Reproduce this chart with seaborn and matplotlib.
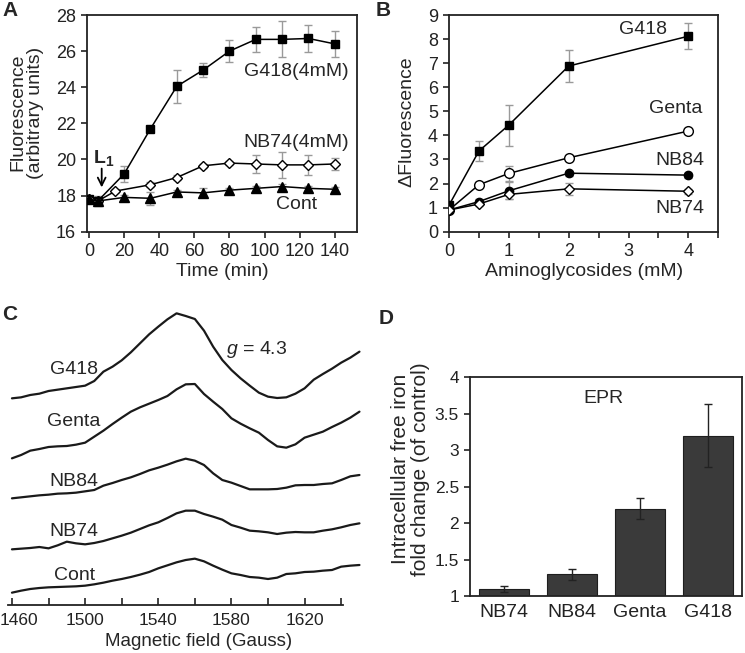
import numpy as np
import pandas as pd
import matplotlib
matplotlib.use("Agg")
import matplotlib.pyplot as plt
import matplotlib.transforms as mtrans
import seaborn as sns
from matplotlib.ticker import MultipleLocator

sns.set_style("ticks")
plt.rcParams['font.family'] = ['Liberation Sans', 'DejaVu Sans']
plt.rcParams['mathtext.fontset'] = 'custom'
plt.rcParams['mathtext.rm'] = 'Liberation Sans'
plt.rcParams['mathtext.it'] = 'Liberation Sans:italic'
plt.rcParams['mathtext.bf'] = 'Liberation Sans:bold'

# ---------------- Panel A data ----------------
a_time_g418 = [0, 5, 20, 35, 50, 65, 80, 95, 110, 125, 140]
a_g418 = [17.8, 17.7, 19.2, 21.7, 24.05, 24.95, 26.0, 26.65, 26.65, 26.7, 26.4]
a_g418_err = [0.1, 0.2, 0.45, 0.1, 0.9, 0.4, 0.6, 0.7, 1.0, 0.75, 0.7]
a_time_nb74 = [0, 5, 15, 35, 50, 65, 80, 95, 110, 125, 140]
a_nb74 = [17.8, 17.7, 18.25, 18.6, 19.0, 19.65, 19.8, 19.75, 19.7, 19.7, 19.75]
a_nb74_err = [0.1, 0.1, 0.1, 0.15, 0.15, 0.1, 0.1, 0.5, 0.7, 0.55, 0.35]
a_time_cont = [0, 5, 20, 35, 50, 65, 80, 95, 110, 125, 140]
a_cont = [17.8, 17.7, 17.9, 17.85, 18.2, 18.15, 18.3, 18.4, 18.5, 18.4, 18.35]
a_cont_err = [0.15, 0.25, 0.15, 0.35, 0.1, 0.25, 0.1, 0.15, 0.15, 0.15, 0.15]

# ---------------- Panel B data ----------------
b_conc = [0, 0.5, 1, 2, 4]
b_g418 = [1.1, 3.35, 4.43, 6.88, 8.12]
b_g418_err = [0.1, 0.43, 0.85, 0.67, 0.55]
b_genta = [0.9, 1.95, 2.42, 3.07, 4.18]
b_genta_err = [0.1, 0.1, 0.3, 0.1, 0.1]
b_nb84 = [0.9, 1.25, 1.7, 2.43, 2.35]
b_nb84_err = [0.1, 0.1, 0.35, 0.1, 0.1]
b_nb74 = [0.9, 1.15, 1.55, 1.78, 1.68]
b_nb74_err = [0.1, 0.1, 0.2, 0.25, 0.1]

# ---------------- Panel C data (EPR spectra, stacked, arb. units) ----------------
c_field = [1460, 1465, 1470, 1475, 1480, 1485, 1490, 1495, 1500, 1505,
           1510, 1515, 1520, 1525, 1530, 1535, 1540, 1545, 1550, 1555,
           1560, 1565, 1570, 1575, 1580, 1585, 1590, 1595, 1600, 1605,
           1610, 1615, 1620, 1625, 1630, 1635, 1640, 1645, 1650]
c_g418 = [70.5, 70.8, 71.5, 71.9, 72.7, 73.1, 73.5, 73.9, 74.3, 75.7,
          78.5, 80.0, 81.9, 84.3, 87.0, 89.7, 92.0, 94.2, 96.0, 95.2,
          94.3, 90.8, 86.0, 82.0, 79.0, 76.5, 74.3, 72.2, 71.0, 70.6,
          70.8, 71.9, 73.5, 76.1, 77.8, 79.4, 81.2, 82.7, 84.5]
c_genta = [52.5, 53.5, 54.8, 55.3, 55.9, 56.1, 56.2, 56.6, 57.2, 59.0,
           60.8, 62.8, 64.7, 66.5, 67.8, 68.9, 70.0, 71.2, 73.2, 74.7,
           74.8, 71.8, 69.5, 67.3, 64.5, 62.9, 61.5, 60.2, 58.0, 56.1,
           55.7, 56.7, 58.7, 59.6, 60.5, 61.9, 63.2, 64.7, 66.5]
c_nb84 = [40.5, 40.8, 41.1, 41.4, 41.6, 41.9, 42.0, 42.2, 42.6, 43.0,
          44.3, 45.1, 46.0, 46.8, 47.8, 48.9, 49.7, 50.6, 51.6, 52.4,
          51.8, 50.5, 48.0, 46.0, 45.2, 44.2, 43.2, 43.2, 43.2, 43.3,
          43.7, 44.4, 44.5, 44.5, 44.8, 45.0, 46.0, 47.1, 47.5]
c_nb74 = [25.2, 25.4, 25.6, 25.9, 25.5, 26.4, 27.5, 27.0, 26.7, 27.1,
          27.7, 28.5, 29.3, 30.2, 31.3, 32.4, 33.3, 34.6, 36.0, 36.8,
          36.8, 35.8, 35.0, 34.1, 32.5, 31.7, 30.8, 30.6, 30.3, 29.8,
          30.2, 30.4, 30.3, 30.3, 30.8, 31.2, 31.8, 32.5, 33.0]
c_cont = [12.2, 12.8, 13.3, 13.6, 13.8, 13.9, 14.0, 14.1, 14.3, 14.7,
          15.2, 15.8, 16.3, 16.9, 17.6, 18.4, 19.5, 20.4, 21.3, 22.0,
          22.4, 21.6, 20.3, 19.1, 18.0, 17.5, 16.9, 16.7, 16.3, 16.7,
          17.8, 18.0, 18.4, 18.5, 18.8, 19.0, 20.0, 20.3, 20.5]
c_labels = ["G418", "Genta", "NB84", "NB74", "Cont"]
c_ticks = [1460, 1500, 1540, 1580, 1620]

# ---------------- Panel D data ----------------
d_cats = ["NB74", "NB84", "Genta", "G418"]
d_vals = [1.1, 1.3, 2.2, 3.2]
d_errs = [0.04, 0.075, 0.14, 0.43]

W, H = 745, 653
fig = plt.figure(figsize=(W / 100, H / 100), dpi=100)

TICK_FS = 13
LAB_FS = 14
ANN_FS = 14
ERR_C = '#9a9a9a'

def box(ax):
    for s in ax.spines.values():
        s.set_visible(True)
        s.set_linewidth(1.3)
        s.set_color('#222222')
    ax.tick_params(direction='out', length=4, width=1.2, labelsize=TICK_FS, colors='#222222',
                   labelcolor='#222222', pad=4)

# ================= Panel A =================
axA = fig.add_axes([87.3 / W, 1 - 231.7 / H, (356.7 - 87.3) / W, (231.7 - 15) / H])
box(axA)
seriesA = [
    (a_time_g418, a_g418, a_g418_err, 's', 'black', 6),
    (a_time_nb74, a_nb74, a_nb74_err, 'D', 'white', 5.5),
    (a_time_cont, a_cont, a_cont_err, '^', 'black', 6.5),
]
for x, y, e, m, fc, ms in seriesA:
    axA.errorbar(x, y, yerr=e, fmt='none', ecolor=ERR_C, elinewidth=1, capsize=3, capthick=1, zorder=1)
for x, y, e, m, fc, ms in seriesA:
    sns.lineplot(x=x, y=y, ax=axA, color='black', lw=1.1, marker=m, markersize=ms,
                 markerfacecolor=fc, markeredgecolor='black', markeredgewidth=1, zorder=3)
axA.set_xlim(-1, 152.5)
axA.set_ylim(16, 28)
axA.set_xticks(range(0, 141, 20))
axA.set_yticks(range(16, 29, 2))
axA.set_xlabel("Time (min)", fontsize=LAB_FS, labelpad=2)
axA.set_ylabel("Fluorescence\n(arbitrary units)", fontsize=LAB_FS, linespacing=1.1)
axA.yaxis.set_label_coords(-0.16, 0.55)
axA.text(118, 24.86, "G418(4mM)", fontsize=ANN_FS, ha='center', va='center')
axA.text(118, 20.94, "NB74(4mM)", fontsize=ANN_FS, ha='center', va='center')
axA.text(118, 17.53, "Cont", fontsize=ANN_FS, ha='center', va='center')
axA.text(8.5, 20.1, r"$\mathbf{L_1}$", fontsize=ANN_FS, ha='center', va='center')
axA.annotate('', xy=(7.2, 18.3), xytext=(7.2, 19.65),
             arrowprops=dict(arrowstyle='->', lw=1.3, color='black', mutation_scale=14))

# ================= Panel B =================
axB = fig.add_axes([449 / W, 1 - 231.7 / H, (718.3 - 449) / W, (231.7 - 15) / H])
box(axB)
seriesB = [
    (b_g418, b_g418_err, 's', 'black', 6),
    (b_genta, b_genta_err, 'o', 'white', 7),
    (b_nb84, b_nb84_err, 'o', 'black', 6),
    (b_nb74, b_nb74_err, 'D', 'white', 5.5),
]
for y, e, m, fc, ms in seriesB:
    axB.errorbar(b_conc, y, yerr=e, fmt='none', ecolor=ERR_C, elinewidth=1, capsize=3, capthick=1, zorder=1)
for y, e, m, fc, ms in seriesB:
    sns.lineplot(x=b_conc, y=y, ax=axB, color='black', lw=1.1, marker=m, markersize=ms,
                 markerfacecolor=fc, markeredgecolor='black', markeredgewidth=1, zorder=3)
axB.set_xlim(0, 4.5)
axB.set_ylim(0, 9)
axB.set_xticks(range(0, 5))
axB.xaxis.set_minor_locator(MultipleLocator(0.5))
axB.tick_params(axis='x', which='minor', direction='out', length=4, width=1.2, colors='#222222')
axB.set_yticks(range(0, 10))
axB.set_xlabel("Aminoglycosides (mM)", fontsize=LAB_FS, labelpad=2)
axB.set_ylabel("\u0394Fluorescence", fontsize=LAB_FS)
axB.yaxis.set_label_coords(-0.125, 0.506)
axB.text(3.25, 8.38, "G418", fontsize=ANN_FS, ha='center', va='center')
axB.text(3.79, 5.12, "Genta", fontsize=ANN_FS, ha='center', va='center')
axB.text(3.85, 2.95, "NB84", fontsize=ANN_FS, ha='center', va='center')
axB.text(3.85, 0.97, "NB74", fontsize=ANN_FS, ha='center', va='center')

# ================= Panel C =================
axC = fig.add_axes([8.3 / W, 48 / H, (343 - 8.3) / W, (605 - 305) / H])
rows = []
for lab, arr in zip(c_labels, [c_g418, c_genta, c_nb84, c_nb74, c_cont]):
    for f, v in zip(c_field, arr):
        rows.append((lab, f, v))
dfC = pd.DataFrame(rows, columns=["sample", "field", "signal"])
for lab in c_labels:
    sub = dfC[dfC["sample"] == lab]
    sns.lineplot(data=sub, x="field", y="signal", ax=axC, color='#1a1a1a', lw=1.6,
                 clip_on=False)
for s in ['left', 'right', 'top']:
    axC.spines[s].set_visible(False)
axC.spines['bottom'].set_linewidth(1.3)
axC.spines['bottom'].set_color('#222222')
axC.set_xlim(1458, 1641)
axC.set_ylim(8.5, 98.5)
axC.set_yticks([])
axC.set_ylabel("")
axC.set_xticks(c_ticks)
axC.xaxis.set_minor_locator(MultipleLocator(20))
axC.tick_params(axis='x', which='both', direction='in', length=5, width=1.2,
                labelsize=12.5, colors='#222222', pad=6)
axC.set_xlabel("Magnetic field (Gauss)", fontsize=13.5, labelpad=2)
axC.xaxis.set_label_coords(0.567, -0.095)
first = axC.get_xticklabels()[0]
first.set_transform(first.get_transform() +
                    mtrans.ScaledTranslation(7 / 100, 0, fig.dpi_scale_trans))
c_label_y = [79, 63.4, 45.4, 30.4, 17.5]
for lab, yy in zip(c_labels, c_label_y):
    axC.text(1494, yy, lab, fontsize=ANN_FS, ha='center', va='center')
axC.text(1594, 85, r"$\it{g}$ = 4.3", fontsize=ANN_FS, ha='center', va='center')

# ================= Panel D =================
axD = fig.add_axes([470 / W, 1 - 596 / H, (741.7 - 470) / W, (596 - 377.3) / H])
box(axD)
dfD = pd.DataFrame({"compound": d_cats, "value": d_vals})
sns.barplot(data=dfD, x="compound", y="value", ax=axD, color='#3a3a3a', width=0.73,
            edgecolor='#1e1e1e', linewidth=0.8, saturation=1, errorbar=None)
axD.errorbar(range(len(d_cats)), d_vals, yerr=d_errs, fmt='none', ecolor='#222222',
             elinewidth=1, capsize=3, capthick=1, zorder=5)
axD.set_xlim(-0.5, 3.5)
axD.set_ylim(1, 4)
axD.set_yticks([1, 1.5, 2, 2.5, 3, 3.5, 4])
axD.set_yticklabels(["1", "1.5", "2", "2.5", "3", "3.5", "4"])
axD.tick_params(axis='y', labelsize=12.5)
axD.tick_params(axis='x', length=0, labelsize=14, pad=6)
axD.set_xlabel("")
axD.set_ylabel("Intracellular free iron\nfold change (of control)", fontsize=15, linespacing=1.1)
axD.yaxis.set_label_coords(-0.147, 0.58)
axD.text(1.46, 3.71, "EPR", fontsize=ANN_FS, ha='center', va='center')

# panel letters
for letter, x, y in [("A", 2, 10), ("B", 376, 11), ("C", 2, 314), ("D", 379, 318)]:
    fig.text(x / W, 1 - y / H, letter, fontsize=15, fontweight='bold', ha='left', va='center')

fig.savefig("out.png", dpi=100)
